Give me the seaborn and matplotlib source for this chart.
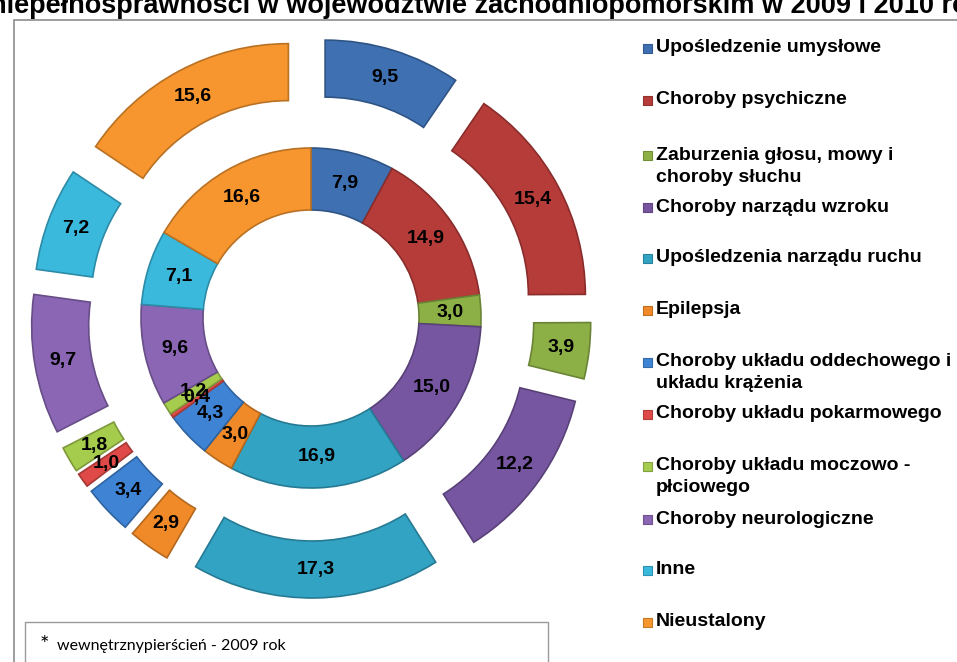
import matplotlib
matplotlib.use("Agg")
import matplotlib.pyplot as plt
from matplotlib.patches import Rectangle
import matplotlib.colors as mcolors
import seaborn as sns

# ---------------- data ----------------
categories = [
    "Upośledzenie umysłowe",
    "Choroby psychiczne",
    "Zaburzenia głosu, mowy i\nchoroby słuchu",
    "Choroby narządu wzroku",
    "Upośledzenia narządu ruchu",
    "Epilepsja",
    "Choroby układu oddechowego i\nukładu krążenia",
    "Choroby układu pokarmowego",
    "Choroby układu moczowo -\npłciowego",
    "Choroby neurologiczne",
    "Inne",
    "Nieustalony",
]
values_2009 = [7.9, 14.9, 3.0, 15.0, 16.9, 3.0, 4.3, 0.4, 1.2, 9.6, 7.1, 16.6]   # inner ring
values_2010 = [9.5, 15.4, 3.9, 12.2, 17.3, 2.9, 3.4, 1.0, 1.8, 9.7, 7.2, 15.6]   # outer ring
colors_hex = ["#3E70B2", "#B63C3A", "#8DB046", "#7656A0", "#33A3C4", "#F08A28",
              "#3F84D4", "#DF4A48", "#A6CC4E", "#8A66B4", "#3BB9DD", "#F7962E"]
title_text = "niepełnosprawności w województwie zachodniopomorskim w 2009 i 2010 roku"
note_text = "wewnętrznypierścień - 2009 rok"

sns.set_theme(style="white")
plt.rcParams['font.family'] = ['Liberation Sans', 'DejaVu Sans']
palette = sns.color_palette(colors_hex)

W, H = 957, 662
fig = plt.figure(figsize=(W / 100, H / 100), dpi=100)
ax = fig.add_axes([0, 0, 1, 1])

def fmt(v):
    return f"{v:.1f}".replace(".", ",")

def darker(c, f=0.7):
    r, g, b = mcolors.to_rgb(c)
    return (r * f, g * f, b * f)

cx, cy = 311, H - 318

# outer ring (2010), exploded
r_out, w_out, expl = 232, 57, 48
wedges_o, texts_o = ax.pie(
    values_2010, colors=palette, startangle=90, counterclock=False,
    radius=r_out, center=(cx, cy), explode=[expl] * len(values_2010),
    labels=[fmt(v) for v in values_2010], labeldistance=(r_out - w_out / 2) / r_out,
    wedgeprops=dict(width=w_out, linewidth=1.2), normalize=True,
    textprops=dict(fontsize=14, fontweight='bold', color='black'))
for wdg, c in zip(wedges_o, palette):
    wdg.set_edgecolor(darker(c, 0.75))
for t in texts_o:
    t.set_ha('center'); t.set_va('center')

# inner ring (2009)
r_in, w_in = 170, 62
wedges_i, texts_i = ax.pie(
    values_2009, colors=palette, startangle=90, counterclock=False,
    radius=r_in, center=(cx, cy),
    labels=[fmt(v) for v in values_2009], labeldistance=(r_in - w_in / 2) / r_in,
    wedgeprops=dict(width=w_in, linewidth=1.2), normalize=True,
    textprops=dict(fontsize=14, fontweight='bold', color='black'))
for wdg, c in zip(wedges_i, palette):
    wdg.set_edgecolor(darker(c, 0.75))
for t in texts_i:
    t.set_ha('center'); t.set_va('center')

ax.set_xlim(0, W)
ax.set_ylim(0, H)
ax.set_aspect('equal')
ax.axis('off')

# chart frame
ax.add_patch(Rectangle((14, -20), 1000, H - 20 + 20, fill=False,
                       edgecolor='#8c8c8c', linewidth=1.2, clip_on=False))

# title (cut at top, as in the reference)
ax.text(-10, H - 13, title_text, fontsize=19.5, fontweight='bold',
        ha='left', va='baseline', color='black')

# legend
leg_y = [48, 100, 155, 207, 258, 310, 362, 414, 466, 519, 570, 622]
for name, yy, c in zip(categories, leg_y, palette):
    ax.add_patch(Rectangle((643, H - yy - 4.5), 9, 9, facecolor=c,
                           edgecolor=darker(c, 0.8), linewidth=0.8))
    for k, line in enumerate(name.split("\n")):
        ax.text(656, H - yy - 22 * k, line, fontsize=14, fontweight='bold',
                ha='left', va='center', color='black')

# footnote box
ax.add_patch(Rectangle((25, -10), 523, H - 622 + 10, fill=False,
                       edgecolor='#9a9a9a', linewidth=1.0))
ax.text(40, H - 645, "*", fontsize=16, ha='left', va='center', color='black',
        family=['Lato', 'DejaVu Sans'])
ax.text(57, H - 646, note_text, fontsize=11.5, ha='left', va='center', color='black',
        family=['Lato', 'DejaVu Sans'])

fig.savefig("out.png", dpi=100)
